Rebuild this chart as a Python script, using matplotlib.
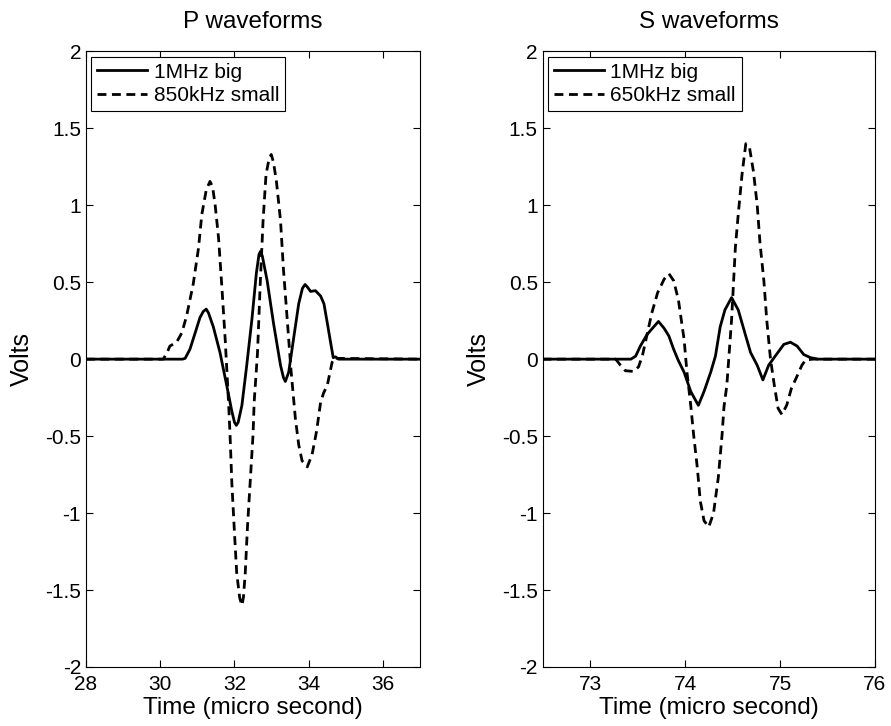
import numpy as np
import matplotlib.pyplot as plt

plt.rcParams['font.family'] = ['Liberation Sans', 'DejaVu Sans']

# P waveforms, 1MHz big transducer (solid)
p_big_t = [28.0, 30.60, 30.67, 30.80, 30.94, 31.07, 31.16, 31.24, 31.30, 31.43, 31.61,
           31.79, 31.93, 32.00, 32.05, 32.10, 32.20, 32.33, 32.47, 32.59, 32.66, 32.70,
           32.75, 32.88, 33.05, 33.24, 33.32, 33.37, 33.46, 33.59, 33.73, 33.83, 33.90,
           33.96, 34.05, 34.18, 34.32, 34.41, 34.50, 34.59, 34.66, 34.72, 34.80, 37.0]
p_big_v = [0.0, 0.0, 0.005, 0.064, 0.17, 0.27, 0.31, 0.325, 0.30, 0.21, 0.043,
           -0.17, -0.34, -0.41, -0.43, -0.41, -0.30, -0.04, 0.26, 0.56, 0.68, 0.70,
           0.67, 0.51, 0.235, -0.04, -0.12, -0.145, -0.085, 0.13, 0.36, 0.46, 0.485,
           0.47, 0.44, 0.445, 0.41, 0.36, 0.235, 0.107, 0.01, 0.015, 0.0, 0.0]

# P waveforms, 850kHz small transducer (dashed)
p_small_t = [28.0, 30.08, 30.18, 30.26, 30.44, 30.58, 30.71, 30.89, 31.03, 31.12, 31.24,
             31.34, 31.41, 31.48, 31.57, 31.66, 31.75, 31.84, 31.88, 31.93, 32.00, 32.06,
             32.14, 32.20, 32.24, 32.29, 32.35, 32.42, 32.50, 32.53, 32.62, 32.69, 32.77,
             32.85, 32.93, 32.99, 33.05, 33.13, 33.24, 33.32, 33.42, 33.52, 33.64, 33.73,
             33.82, 33.96, 34.09, 34.21, 34.32, 34.40, 34.50, 34.63, 34.70, 34.78, 37.0]
p_small_v = [0.0, 0.0, 0.04, 0.085, 0.11, 0.17, 0.28, 0.49, 0.72, 0.94, 1.10,
             1.155, 1.12, 1.0, 0.79, 0.47, 0.128, -0.28, -0.49, -0.81, -1.13, -1.39,
             -1.55, -1.60, -1.55, -1.39, -1.09, -0.81, -0.49, -0.28, 0.04, 0.47, 0.90,
             1.20, 1.30, 1.33, 1.28, 1.155, 0.90, 0.58, 0.26, -0.064, -0.385, -0.556,
             -0.66, -0.70, -0.62, -0.47, -0.28, -0.22, -0.17, -0.02, 0.01, 0.005, 0.0]

# S waveforms, 1MHz big transducer (solid)
s_big_t = [72.5, 73.43, 73.48, 73.53, 73.60, 73.67, 73.72, 73.78, 73.83, 73.88, 73.93,
           73.99, 74.06, 74.14, 74.20, 74.27, 74.32, 74.37, 74.42, 74.49, 74.56, 74.63,
           74.69, 74.76, 74.82, 74.88, 74.95, 75.04, 75.11, 75.18, 75.25, 75.32, 75.40, 76.0]
s_big_v = [0.0, 0.0, 0.02, 0.086, 0.16, 0.21, 0.245, 0.20, 0.15, 0.064, -0.01,
           -0.085, -0.21, -0.30, -0.21, -0.085, 0.02, 0.21, 0.32, 0.40, 0.32, 0.17,
           0.043, -0.04, -0.135, -0.04, 0.02, 0.096, 0.11, 0.085, 0.03, 0.01, 0.0, 0.0]

# S waveforms, 650kHz small transducer (dashed)
s_small_t = [72.5, 73.27, 73.32, 73.37, 73.46, 73.51, 73.55, 73.60, 73.65, 73.71, 73.78,
             73.83, 73.88, 73.93, 73.99, 74.02, 74.06, 74.09, 74.13, 74.16, 74.20, 74.25,
             74.30, 74.35, 74.39, 74.41, 74.44, 74.49, 74.53, 74.56, 74.60, 74.64, 74.68,
             74.72, 74.76, 74.79, 74.83, 74.86, 74.90, 74.94, 74.98, 75.02, 75.07, 75.12,
             75.18, 75.23, 75.27, 75.35, 76.0]
s_small_v = [0.0, 0.0, -0.04, -0.075, -0.08, -0.05, 0.02, 0.16, 0.30, 0.43, 0.52,
             0.555, 0.51, 0.385, 0.128, -0.085, -0.30, -0.49, -0.71, -0.92, -1.05, -1.09,
             -1.0, -0.77, -0.49, -0.31, -0.17, 0.256, 0.727, 0.94, 1.20, 1.40, 1.37,
             1.22, 1.0, 0.75, 0.51, 0.256, 0.0, -0.17, -0.32, -0.36, -0.30, -0.19,
             -0.11, -0.04, -0.005, 0.0, 0.0]

panels = [
    dict(title='P waveforms', big=(p_big_t, p_big_v), small=(p_small_t, p_small_v),
         small_label='850kHz small', xlim=(28, 37), xticks=[28, 30, 32, 34, 36],
         rect=[0.0965, 0.0813, 0.375, 0.848]),
    dict(title='S waveforms', big=(s_big_t, s_big_v), small=(s_small_t, s_small_v),
         small_label='650kHz small', xlim=(72.5, 76), xticks=[73, 74, 75, 76],
         rect=[0.609, 0.0813, 0.373, 0.848]),
]

fig = plt.figure(figsize=(8.91, 7.26), dpi=100)
for p in panels:
    ax = fig.add_axes(p['rect'])
    ax.plot(p['big'][0], p['big'][1], '-', color='black', lw=2.0, label='1MHz big')
    ax.plot(p['small'][0], p['small'][1], '--', color='black', lw=2.0,
            dashes=(3.2, 2), label=p['small_label'])
    ax.set_xlim(*p['xlim'])
    ax.set_ylim(-2, 2)
    ax.set_xticks(p['xticks'])
    ax.set_yticks([-2, -1.5, -1, -0.5, 0, 0.5, 1, 1.5, 2])
    ax.set_yticklabels(['-2', '-1.5', '-1', '-0.5', '0', '0.5', '1', '1.5', '2'])
    ax.tick_params(direction='in', top=True, right=True, length=5, labelsize=15)
    ax.tick_params(axis='x', pad=6)
    ax.set_title(p['title'], fontsize=17.5, pad=17)
    ax.set_xlabel('Time (micro second)', fontsize=17.5, labelpad=2)
    ax.set_ylabel('Volts', fontsize=18, labelpad=8)
    leg = ax.legend(loc='upper left', fontsize=15, fancybox=False, framealpha=1,
                    edgecolor='black', borderaxespad=0.25, handlelength=2.4,
                    handletextpad=0.3, labelspacing=0.2, borderpad=0.3)
    leg.get_frame().set_linewidth(0.8)

fig.savefig('out.png', dpi=100)
